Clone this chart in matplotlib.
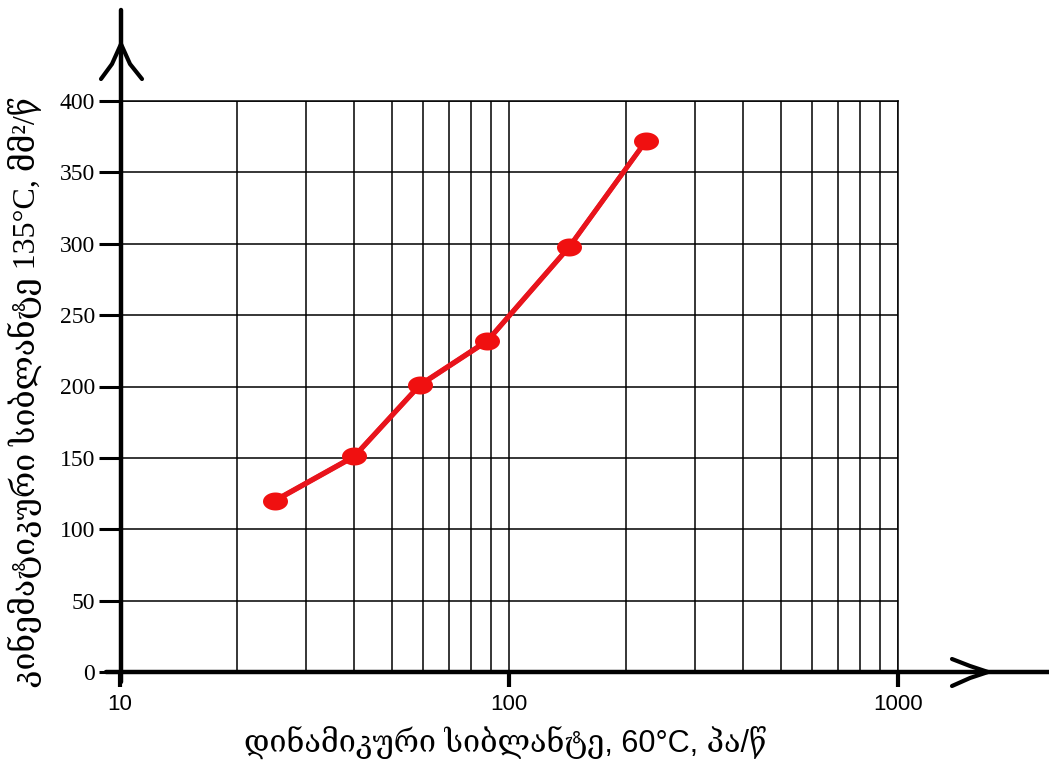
import numpy as np
import matplotlib
matplotlib.use("Agg")
import matplotlib.pyplot as plt
from matplotlib.lines import Line2D
from matplotlib.path import Path
from matplotlib.ticker import FixedLocator, NullFormatter
import matplotlib.transforms as mtransforms

# Dynamic viscosity at 60 °C (Pa·s) vs kinematic viscosity at 135 °C (mm²/s)
dyn_visc_60 = [25, 40, 59, 88, 143, 225]
kin_visc_135 = [120, 151, 201, 232, 298, 372]

x_ticks = [10, 100, 1000]
x_tick_labels = ["10", "100", "1000"]
y_ticks = [0, 50, 100, 150, 200, 250, 300, 350, 400]

x_label = "დინამიკური სიბლანტე, 60°C, პა/წ"
y_label = "კინემატიკური სიბლანტე 135°C, მმ²/წ"

W, H = 1049, 760
fig = plt.figure(figsize=(W / 100, H / 100), dpi=100)
fig.patch.set_facecolor("white")


def fx(px):
    return px / W


def fy(py):
    return 1 - py / H


ax = fig.add_axes([fx(120), fy(672), fx(898) - fx(120), fy(101) - fy(672)])
ax.set_xscale("log")
ax.set_xlim(10, 1000)
ax.set_ylim(0, 400)

# grid: every 1..9 subdivision on the log axis, every 50 on the linear axis
minor_x = [m * d for d in (10, 100) for m in range(2, 10)]
ax.xaxis.set_major_locator(FixedLocator(x_ticks))
ax.xaxis.set_minor_locator(FixedLocator(minor_x))
ax.xaxis.set_minor_formatter(NullFormatter())
ax.set_xticks(x_ticks, x_tick_labels)
ax.set_yticks(y_ticks)
ax.grid(True, which="both", axis="x", color="black", lw=1.1)
ax.grid(True, which="major", axis="y", color="black", lw=1.1)
ax.set_axisbelow(True)

for s in ("left", "bottom"):
    ax.spines[s].set_visible(False)
for s in ("top", "right"):
    ax.spines[s].set_color("black")
    ax.spines[s].set_linewidth(1.1)

ax.tick_params(axis="y", which="major", direction="out", length=15, width=2.2,
               color="black", pad=3, labelsize=17,
               labelfontfamily="Liberation Serif")
ax.tick_params(axis="x", which="major", direction="out", length=11, width=3,
               color="black", pad=5, labelsize=16,
               labelfontfamily="Liberation Sans")
ax.tick_params(axis="x", which="minor", length=0)

# axis lines with open arrowheads
axis_kw = dict(color="black", lw=3.2, solid_capstyle="round", transform=fig.transFigure)
fig.add_artist(Line2D([fx(106), fx(1049)], [fy(672), fy(672)], **axis_kw))
fig.add_artist(Line2D([fx(121), fx(121)], [fy(682), fy(10)], **axis_kw))
head_kw = dict(color="black", lw=3.0, solid_capstyle="round",
               solid_joinstyle="round", transform=fig.transFigure)
fig.add_artist(Line2D([fx(952), fx(970), fx(988), fx(970), fx(952)],
                      [fy(659), fy(666), fy(672), fy(678), fy(686)], **head_kw))
fig.add_artist(Line2D([fx(101), fx(112), fx(121), fx(130), fx(142)],
                      [fy(79), fy(64), fy(44), fy(64), fy(79)], **head_kw))

# sketched red curve: several slightly shifted strokes
red = "#e8141c"
shifts = [(0, 0, 3.4), (1.8, 1.4, 1.0), (-1.8, -1.2, 1.0), (1.0, -1.8, 0.9),
          (-1.0, 1.8, 0.9)]
for dx, dy, lw in shifts:
    tr = ax.transData + mtransforms.ScaledTranslation(dx / 100, dy / 100, fig.dpi_scale_trans)
    ax.plot(dyn_visc_60, kin_visc_135, color=red, lw=lw, transform=tr,
            solid_capstyle="round", zorder=3)

# slightly flattened dot markers
t = np.linspace(0, 2 * np.pi, 60)
ellipse = Path(np.column_stack([np.cos(t), 0.72 * np.sin(t)]), closed=True)
ax.plot(dyn_visc_60, kin_visc_135, linestyle="none", marker=ellipse,
        markersize=18, color="#f01010", markeredgewidth=0, zorder=4)

fig.text(fx(505), fy(742), x_label, ha="center", va="center", fontsize=22,
         family=["Liberation Sans", "DejaVu Serif"])
fig.text(fx(25), fy(392), y_label, ha="center", va="center", fontsize=23,
         rotation=90, family=["Liberation Serif", "DejaVu Serif"])

fig.savefig("out.png", dpi=100, facecolor="white")
